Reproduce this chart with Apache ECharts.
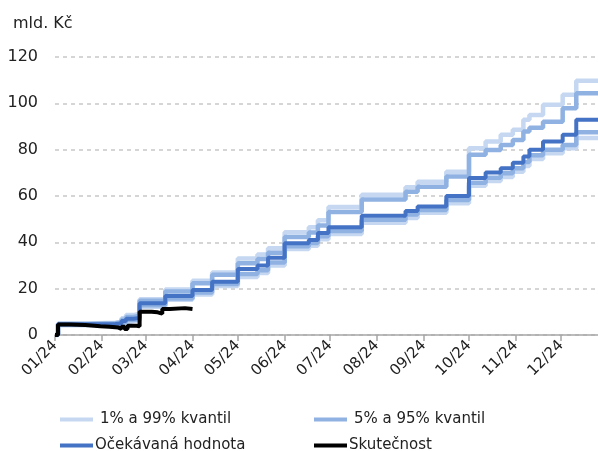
<!DOCTYPE html>
<html>
<head>
<meta charset="utf-8">
<script src="https://cdn.jsdelivr.net/npm/echarts@6/dist/echarts.min.js"></script>
<style>
  html, body { margin: 0; padding: 0; background: #fff; }
  #chart { width: 598px; height: 451px; }
</style>
</head>
<body>
<div id="chart"></div>
<script>
// osa x: dny od 1. 1. 2024
const monthLabels = ['01/24', '02/24', '03/24', '04/24', '05/24', '06/24', '07/24', '08/24', '09/24', '10/24', '11/24', '12/24']
const monthStartDays = [0, 31, 60, 91, 121, 152, 182, 213, 244, 274, 305, 335]
const yTicks = [0, 20, 40, 60, 80, 100, 120]

// scenare - dny, kdy se hodnota meni
const stepDays = [0, 2, 22, 40, 44, 47, 52, 56, 73, 91, 104, 121, 134, 141, 152, 168, 174, 181, 203, 232, 240, 259, 274, 285, 295, 303, 310, 314, 323, 336, 345, 366]
const q01 = [0, 4.2, 4.4, 4.5, 5.2, 6.0, 6.3, 12.2, 15.2, 17.5, 21.2, 25.0, 26.8, 30.0, 37.1, 38.5, 41.3, 43.6, 48.5, 50.5, 52.8, 56.9, 64.4, 66.5, 68.2, 70.5, 73.0, 76.0, 78.5, 80.6, 85.0, 85.0]
const q05 = [0, 4.4, 4.6, 4.8, 5.6, 6.5, 6.8, 12.8, 15.8, 18.3, 22.0, 26.3, 28.0, 31.3, 38.3, 39.7, 42.6, 44.9, 49.8, 52.0, 54.0, 58.3, 65.7, 67.9, 69.8, 72.0, 74.7, 77.6, 80.0, 82.0, 87.5, 87.5]
const expected = [0, 4.6, 4.8, 5.0, 6.0, 7.0, 7.4, 13.7, 16.8, 19.4, 23.0, 28.5, 30.0, 33.3, 39.6, 41.0, 44.0, 46.5, 51.5, 53.5, 55.5, 60.0, 67.8, 70.1, 72.0, 74.3, 77.0, 80.0, 83.5, 86.4, 92.9, 92.9]
const q95 = [0, 4.8, 5.1, 5.4, 6.6, 7.8, 8.3, 14.8, 18.8, 22.3, 26.0, 31.0, 32.8, 35.5, 42.3, 44.2, 47.3, 53.1, 58.5, 61.8, 64.0, 68.4, 77.8, 79.9, 82.0, 84.2, 87.8, 89.5, 92.1, 97.9, 104.4, 104.4]
const q99 = [0, 5.0, 5.3, 5.7, 7.2, 8.6, 9.2, 15.4, 19.6, 23.4, 27.0, 33.0, 34.8, 37.4, 44.3, 46.5, 49.5, 55.3, 60.5, 63.8, 66.2, 70.5, 80.6, 83.5, 86.4, 88.6, 92.9, 95.0, 99.4, 103.7, 109.8, 109.8]

// skutecnost
const actualDays = [0, 2, 10, 20, 26, 30, 36, 42, 44, 46, 48, 54, 56, 64, 68, 71, 76, 86, 91]
const actualValues = [0, 4.5, 4.3, 4.0, 3.8, 3.6, 3.2, 2.6, 3.6, 2.6, 4.0, 3.8, 10.0, 9.8, 9.2, 11.2, 11.6, 11.2, 11.0]

const LIGHT = '#c5d7f1'
const MID = '#8fb2e2'
const DARK = '#4472c4'
const FONT = 'DejaVu Sans'

const pairs = (days, vals) => days.map((d, i) => [d, vals[i]])

const lineSeries = (name, days, vals, color, width) => ({
  name: name,
  type: 'line',
  step: 'end',
  showSymbol: false,
  symbol: 'none',
  data: pairs(days, vals),
  itemStyle: { color: color },
  lineStyle: { color: color, width: width },
})

const legendItem = (name, left, top, color, pad) => ({
  data: [{ name: name, icon: 'rect', itemStyle: { color: color } }],
  left: left,
  top: top,
  padding: 0,
  itemWidth: 33,
  itemHeight: 4,
  textStyle: { fontFamily: FONT, fontSize: 15, color: '#222', padding: pad },
  selectedMode: false,
})

let myChart = echarts.init(document.getElementById('chart'))
myChart.setOption({
  animation: false,
  backgroundColor: '#fff',
  title: {
    text: 'mld. Kč',
    left: 8,
    top: 11,
    textStyle: { fontFamily: FONT, fontSize: 16, fontWeight: 'normal', color: '#222' },
  },
  grid: {
    left: 55,
    top: 57,
    width: 553,
    height: 278,
    outerBoundsMode: 'none',
    containLabel: false,
  },
  xAxis: {
    type: 'value',
    min: 0,
    max: 366,
    splitLine: { show: false },
    axisLine: { lineStyle: { color: '#a6a6a6', width: 1.5 } },
    axisTick: {
      customValues: monthStartDays,
      length: 6,
      lineStyle: { color: '#a6a6a6', width: 1.5 },
    },
    axisLabel: {
      customValues: monthStartDays,
      rotate: 45,
      margin: 8,
      fontFamily: FONT,
      fontSize: 15,
      color: '#222',
      formatter: (v) => monthLabels[monthStartDays.indexOf(v)],
    },
  },
  yAxis: {
    type: 'value',
    min: yTicks[0],
    max: yTicks[yTicks.length - 1],
    interval: 20,
    axisLine: { show: false },
    axisTick: { show: false },
    axisLabel: { fontFamily: FONT, fontSize: 16, color: '#222', margin: 17 },
    splitLine: { lineStyle: { type: [4, 4], color: '#c8c8c8', width: 1.5 } },
  },
  legend: [
    legendItem('1% a 99% kvantil', 60, 412, LIGHT, [0, 0, 0, 2]),
    legendItem('5% a 95% kvantil', 314, 412, MID, [0, 0, 0, 2]),
    legendItem('Očekávaná hodnota', 60, 438, DARK, [0, 0, 0, -3]),
    legendItem('Skutečnost', 314, 438, '#000', [0, 0, 0, -3]),
  ],
  series: [
    lineSeries('1% a 99% kvantil', stepDays, q01, LIGHT, 4.5),
    lineSeries('1% a 99% kvantil', stepDays, q99, LIGHT, 4.5),
    lineSeries('5% a 95% kvantil', stepDays, q05, MID, 4.5),
    lineSeries('5% a 95% kvantil', stepDays, q95, MID, 4.5),
    lineSeries('Očekávaná hodnota', stepDays, expected, DARK, 4),
    lineSeries('Skutečnost', actualDays, actualValues, '#000', 4),
  ],
})
</script>
</body>
</html>
